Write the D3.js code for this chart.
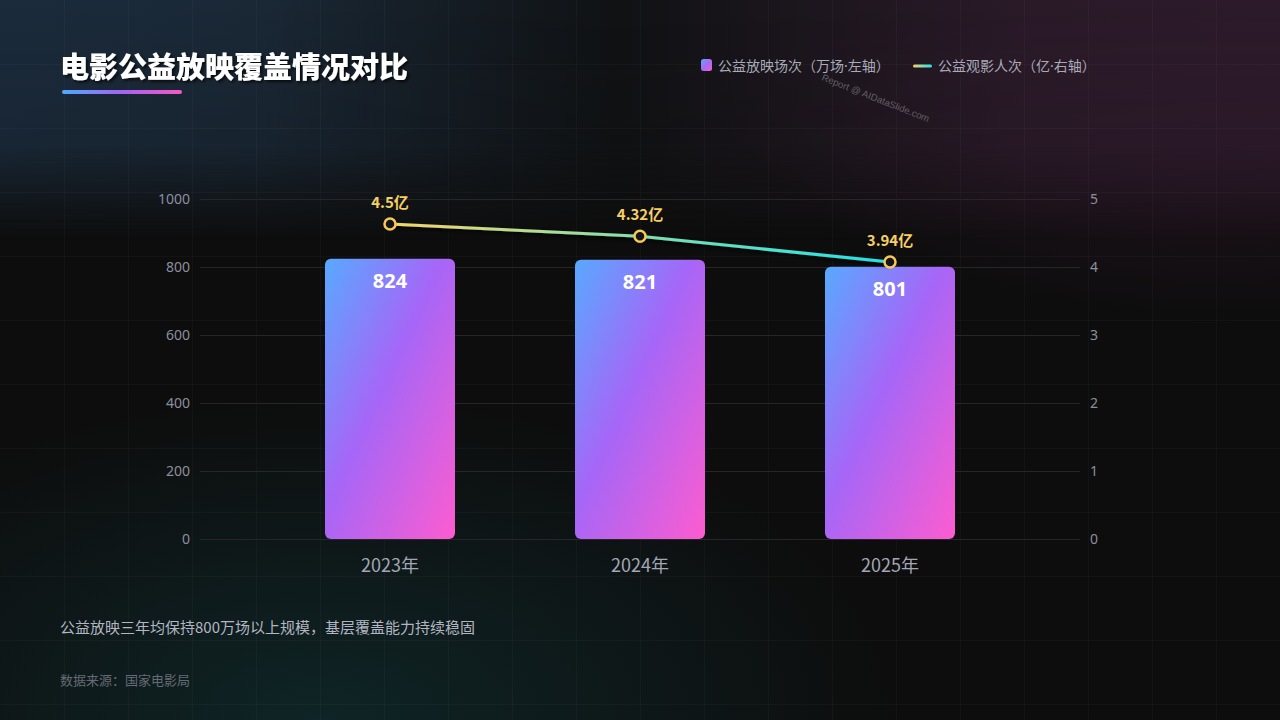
<!DOCTYPE html>
<html>
<head>
<meta charset="utf-8">
<script src="https://cdn.jsdelivr.net/npm/d3@7"></script>
<style>
  html, body { margin: 0; padding: 0; background: #0d0d0d; }
  svg { display: block; font-family: "Noto Sans CJK SC", "Noto Sans", sans-serif; }
</style>
</head>
<body>
<div id="chart"></div>
<script>
// 数据
var years = ["2023年", "2024年", "2025年"];
var screenings = [824, 821, 801];          // 公益放映场次（万场）
var audience = [4.5, 4.32, 3.94];          // 公益观影人次（亿）
var audienceLabels = ["4.5亿", "4.32亿", "3.94亿"];
var leftTicks = [0, 200, 400, 600, 800, 1000];
var rightTicks = [0, 1, 2, 3, 4, 5];

var W = 1280, H = 720;
var svg = d3.select("#chart").append("svg")
    .attr("width", W)
    .attr("height", H);

var defs = svg.append("defs");

// 背景渐变
var bgTop = defs.append("linearGradient").attr("id", "bgTop")
    .attr("x1", "0").attr("y1", "0").attr("x2", "1").attr("y2", "0");
bgTop.append("stop").attr("offset", "0%").attr("stop-color", "#1b2b3c");
bgTop.append("stop").attr("offset", "20%").attr("stop-color", "#1a2836");
bgTop.append("stop").attr("offset", "48%").attr("stop-color", "#101214");
bgTop.append("stop").attr("offset", "80%").attr("stop-color", "#2a1a28");
bgTop.append("stop").attr("offset", "100%").attr("stop-color", "#2c1a2a");

var fade = defs.append("linearGradient").attr("id", "fadeV")
    .attr("x1", "0").attr("y1", "0").attr("x2", "0").attr("y2", "1");
fade.append("stop").attr("offset", "0%").attr("stop-color", "#fff").attr("stop-opacity", 1);
fade.append("stop").attr("offset", "60%").attr("stop-color", "#fff").attr("stop-opacity", 0.85);
fade.append("stop").attr("offset", "100%").attr("stop-color", "#fff").attr("stop-opacity", 0);
defs.append("mask").attr("id", "fadeMask")
    .append("rect").attr("width", W).attr("height", 240).attr("fill", "url(#fadeV)");

var glowBL = defs.append("radialGradient").attr("id", "glowBL")
    .attr("cx", "25%").attr("cy", "100%").attr("r", "45%");
glowBL.append("stop").attr("offset", "0%").attr("stop-color", "#0f2a2c").attr("stop-opacity", 0.8);
glowBL.append("stop").attr("offset", "100%").attr("stop-color", "#0f2a2c").attr("stop-opacity", 0);

var glowR = defs.append("radialGradient").attr("id", "glowR")
    .attr("cx", "95%").attr("cy", "5%").attr("r", "40%");
glowR.append("stop").attr("offset", "0%").attr("stop-color", "#33182e").attr("stop-opacity", 0.8);
glowR.append("stop").attr("offset", "100%").attr("stop-color", "#33182e").attr("stop-opacity", 0);

svg.append("rect").attr("width", W).attr("height", H).attr("fill", "#0d0d0d");
svg.append("rect").attr("width", W).attr("height", H).attr("fill", "url(#glowBL)");
svg.append("rect").attr("width", W).attr("height", H).attr("fill", "url(#glowR)");
svg.append("rect").attr("width", W).attr("height", 240)
    .attr("fill", "url(#bgTop)").attr("mask", "url(#fadeMask)");

// 背景网格
var bgGrid = svg.append("g").attr("stroke", "rgba(255,255,255,0.028)").attr("stroke-width", 1);
d3.range(64, W, 64).forEach(function(x) {
    bgGrid.append("line").attr("x1", x + 0.5).attr("x2", x + 0.5).attr("y1", 0).attr("y2", H);
});
d3.range(64, H, 64).forEach(function(y) {
    bgGrid.append("line").attr("x1", 0).attr("x2", W).attr("y1", y + 0.5).attr("y2", y + 0.5);
});

// 标题
var shadow = defs.append("filter").attr("id", "textShadow")
    .attr("x", "-10%").attr("y", "-30%").attr("width", "120%").attr("height", "160%");
shadow.append("feDropShadow").attr("dx", 2).attr("dy", 2).attr("stdDeviation", 1.5)
    .attr("flood-color", "#000").attr("flood-opacity", 0.7);

svg.append("text")
    .attr("x", 60).attr("y", 78)
    .attr("fill", "#ffffff")
    .attr("font-size", 29)
    .attr("font-weight", 900)
    .attr("filter", "url(#textShadow)")
    .text("电影公益放映覆盖情况对比");

var titleBar = defs.append("linearGradient").attr("id", "titleBar");
titleBar.append("stop").attr("offset", "0%").attr("stop-color", "#4fa8ff");
titleBar.append("stop").attr("offset", "50%").attr("stop-color", "#a463f5");
titleBar.append("stop").attr("offset", "100%").attr("stop-color", "#f756c6");
svg.append("rect")
    .attr("x", 62).attr("y", 90).attr("width", 120).attr("height", 4).attr("rx", 2)
    .attr("fill", "url(#titleBar)");

// 图例
function legendText(xPos, before, after) {
    var t = svg.append("text").attr("x", xPos).attr("y", 70.5)
        .attr("fill", "#a9abb9").attr("font-size", 14);
    t.append("tspan").text(before);
    t.append("tspan").attr("font-family", "Noto Sans, sans-serif").text("·");
    t.append("tspan").text(after);
}

var legBox = defs.append("linearGradient").attr("id", "legBox")
    .attr("x1", "0").attr("y1", "0").attr("x2", "1").attr("y2", "1");
legBox.append("stop").attr("offset", "0%").attr("stop-color", "#5aa8ff");
legBox.append("stop").attr("offset", "50%").attr("stop-color", "#a66af7");
legBox.append("stop").attr("offset", "100%").attr("stop-color", "#f45fd0");
svg.append("rect").attr("x", 701).attr("y", 59).attr("width", 11).attr("height", 12).attr("rx", 2.5)
    .attr("fill", "url(#legBox)");
legendText(718, "公益放映场次（万场", "左轴）");

var legLine = defs.append("linearGradient").attr("id", "legLine");
legLine.append("stop").attr("offset", "0%").attr("stop-color", "#f5d06a");
legLine.append("stop").attr("offset", "100%").attr("stop-color", "#1fe3e8");
svg.append("rect").attr("x", 913).attr("y", 64.5).attr("width", 19).attr("height", 3).attr("rx", 1.5)
    .attr("fill", "url(#legLine)");
legendText(938, "公益观影人次（亿", "右轴）");

// 水印
svg.append("text")
    .attr("transform", "translate(821,80) rotate(21.5)")
    .attr("fill", "rgba(160,160,170,0.55)")
    .attr("font-size", 9.6)
    .attr("font-family", "Liberation Sans, Arial, sans-serif")
    .text("Report @ AIDataSlide.com");

// 坐标系
var plot = { left: 200, right: 1080, top: 199, bottom: 539 };

var x = d3.scaleBand()
    .domain(years)
    .range([plot.left, plot.right])
    .paddingInner(0.48)
    .paddingOuter(0.5);

var yLeft = d3.scaleLinear().domain([0, 1000]).range([plot.bottom, plot.top]);
var yRight = d3.scaleLinear().domain([0, 5]).range([plot.bottom, plot.top]);

// 水平网格线
svg.append("g").selectAll("line")
    .data(leftTicks)
    .enter().append("line")
    .attr("x1", plot.left).attr("x2", plot.right)
    .attr("y1", function(d) { return Math.round(yLeft(d)) + 0.5; })
    .attr("y2", function(d) { return Math.round(yLeft(d)) + 0.5; })
    .attr("stroke", "#262628")
    .attr("stroke-width", 1);

// 左轴
var axL = svg.append("g")
    .attr("transform", "translate(" + (plot.left - 10) + ",0)")
    .call(d3.axisLeft(yLeft).tickValues(leftTicks).tickFormat(d3.format("d")).tickSize(0).tickPadding(0));
axL.select(".domain").remove();
axL.selectAll("text")
    .attr("fill", "#8b8f9c")
    .attr("font-size", 14)
    .attr("font-family", "Noto Sans, sans-serif");

// 右轴
var axR = svg.append("g")
    .attr("transform", "translate(" + (plot.right + 10) + ",0)")
    .call(d3.axisRight(yRight).tickValues(rightTicks).tickFormat(d3.format("d")).tickSize(0).tickPadding(0));
axR.select(".domain").remove();
axR.selectAll("text")
    .attr("fill", "#8b8f9c")
    .attr("font-size", 14)
    .attr("font-family", "Noto Sans, sans-serif");

// X轴标签
var axX = svg.append("g")
    .attr("transform", "translate(0," + (plot.bottom + 20) + ")")
    .call(d3.axisBottom(x).tickSize(0).tickPadding(0));
axX.select(".domain").remove();
axX.selectAll("text")
    .attr("fill", "#a2a6b6")
    .attr("font-size", 18)
    .attr("font-family", "Noto Sans CJK SC, sans-serif");

// 柱子
var barGrad = defs.append("linearGradient").attr("id", "barGrad")
    .attr("x1", "0").attr("y1", "0").attr("x2", "1").attr("y2", "1");
barGrad.append("stop").attr("offset", "0%").attr("stop-color", "#58a9ff");
barGrad.append("stop").attr("offset", "45%").attr("stop-color", "#a666f7");
barGrad.append("stop").attr("offset", "100%").attr("stop-color", "#fd5cd0");

var barData = years.map(function(y, i) { return { year: y, value: screenings[i] }; });

svg.append("g").selectAll("path")
    .data(barData)
    .enter().append("path")
    .attr("fill", "url(#barGrad)")
    .attr("d", function(d) {
        var x0 = x(d.year), w = x.bandwidth();
        var y0 = yLeft(d.value), h = yLeft(0) - y0;
        var r = 6;
        return "M" + (x0 + r) + "," + y0 +
            "H" + (x0 + w - r) + "A" + r + "," + r + " 0 0 1 " + (x0 + w) + "," + (y0 + r) +
            "V" + (y0 + h - r) + "A" + r + "," + r + " 0 0 1 " + (x0 + w - r) + "," + (y0 + h) +
            "H" + (x0 + r) + "A" + r + "," + r + " 0 0 1 " + x0 + "," + (y0 + h - r) +
            "V" + (y0 + r) + "A" + r + "," + r + " 0 0 1 " + (x0 + r) + "," + y0 + "Z";
    });

svg.append("g").selectAll("text")
    .data(barData)
    .enter().append("text")
    .attr("x", function(d) { return x(d.year) + x.bandwidth() / 2; })
    .attr("y", function(d) { return yLeft(d.value) + 29; })
    .attr("text-anchor", "middle")
    .attr("fill", "#ffffff")
    .attr("font-size", 20)
    .attr("font-weight", 700)
    .attr("font-family", "Noto Sans, sans-serif")
    .text(function(d) { return d.value; });

// 折线（右轴），整体略微上移
var lineLift = -9;
var lineData = years.map(function(y, i) { return { year: y, value: audience[i], label: audienceLabels[i] }; });
var cx = function(d) { return x(d.year) + x.bandwidth() / 2; };
var cy = function(d) { return yRight(d.value) + lineLift; };

var lineGrad = defs.append("linearGradient").attr("id", "lineGrad")
    .attr("gradientUnits", "userSpaceOnUse")
    .attr("x1", cx(lineData[0])).attr("y1", 0)
    .attr("x2", cx(lineData[lineData.length - 1])).attr("y2", 0);
lineGrad.append("stop").attr("offset", "0%").attr("stop-color", "#f7d46a");
lineGrad.append("stop").attr("offset", "50%").attr("stop-color", "#7fe0b0");
lineGrad.append("stop").attr("offset", "100%").attr("stop-color", "#1fe3ea");

var lineShadow = defs.append("filter").attr("id", "lineShadow")
    .attr("x", "-5%").attr("y", "-50%").attr("width", "110%").attr("height", "200%");
lineShadow.append("feDropShadow").attr("dx", 0).attr("dy", 2).attr("stdDeviation", 2)
    .attr("flood-color", "#000").attr("flood-opacity", 0.9);

svg.append("path")
    .datum(lineData)
    .attr("fill", "none")
    .attr("stroke", "url(#lineGrad)")
    .attr("stroke-width", 3)
    .attr("filter", "url(#lineShadow)")
    .attr("d", d3.line().x(cx).y(cy));

svg.append("g").selectAll("circle")
    .data(lineData)
    .enter().append("circle")
    .attr("cx", cx)
    .attr("cy", cy)
    .attr("r", 5.5)
    .attr("fill", "#151515")
    .attr("stroke", "#f7c95a")
    .attr("stroke-width", 2.5);

svg.append("g").selectAll("text")
    .data(lineData)
    .enter().append("text")
    .attr("x", cx)
    .attr("y", function(d) { return cy(d) - 16; })
    .attr("text-anchor", "middle")
    .attr("fill", "#f7cf62")
    .attr("font-size", 15)
    .attr("font-weight", 700)
    .text(function(d) { return d.label; });

// 底部说明
svg.append("text")
    .attr("x", 60).attr("y", 633)
    .attr("fill", "#b3b6c2")
    .attr("font-size", 15)
    .text("公益放映三年均保持800万场以上规模，基层覆盖能力持续稳固");

svg.append("text")
    .attr("x", 60).attr("y", 685)
    .attr("fill", "#666a74")
    .attr("font-size", 13)
    .text("数据来源：国家电影局");
</script>
</body>
</html>
